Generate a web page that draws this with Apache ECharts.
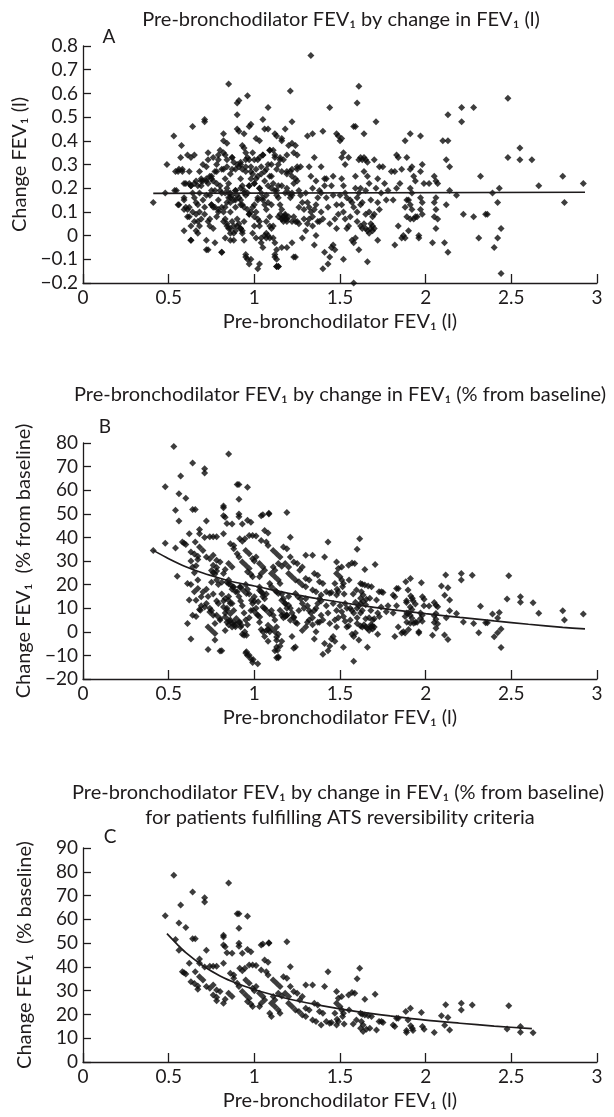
<!DOCTYPE html>
<html><head><meta charset="utf-8">
<script src="https://cdn.jsdelivr.net/npm/echarts@6/dist/echarts.min.js"></script>
<style>html,body{margin:0;padding:0;background:#fff}#c{width:614px;height:1117px}</style>
</head><body><div id="c"></div>
<script>
const xTicks = [0, 0.5, 1, 1.5, 2, 2.5, 3];
const yTicksA = [-0.2, -0.1, 0, 0.1, 0.2, 0.3, 0.4, 0.5, 0.6, 0.7, 0.8];
const yTicksB = [-20, -10, 0, 10, 20, 30, 40, 50, 60, 70, 80];
const yTicksC = [0, 10, 20, 30, 40, 50, 60, 70, 80, 90];

// Panel A: pre-bronchodilator FEV1 (l) vs change in FEV1 (l)
const panelA = [
[0.41,0.14],[0.48,0.18],[0.49,0.30],[0.53,0.42],[0.54,0.27],[0.545,0.19],[0.555,0.27],[0.56,0.13],[0.57,0.33],[0.575,0.38],[0.58,0.27],[0.59,0.22],[0.59,0.16],[0.60,0.22],[0.60,0.12],[0.59,0.02],[0.63,-0.02],[0.555,0.13],[0.61,0.08],[0.61,0.11],[0.59,0.15],
[0.61,0.34],[0.64,0.46],[0.63,0.33],[0.65,0.34],[0.62,0.22],[0.63,0.21],[0.64,0.18],[0.65,0.16],[0.66,0.14],[0.67,0.13],[0.65,0.22],[0.67,0.21],[0.68,0.27],[0.69,0.24],[0.67,0.06],[0.68,0.04],[0.66,0.09],[0.69,0.07],[0.70,0.30],[0.70,0.23],[0.69,0.21],[0.62,0.12],[0.64,0.10],[0.66,0.02],[0.68,0.18],[0.70,0.15],
[0.71,0.49],[0.71,0.48],[0.72,0.29],[0.73,0.35],[0.74,0.25],[0.72,0.23],[0.73,0.22],[0.75,0.24],[0.76,0.23],[0.74,0.17],[0.75,0.13],[0.76,0.12],[0.77,0.19],[0.78,0.22],[0.78,0.30],[0.79,0.32],[0.73,0.06],[0.72,-0.06],[0.76,0.03],[0.77,-0.03],[0.78,0.08],[0.79,0.10],[0.71,0.12],[0.74,0.04],[0.75,0.19],[0.80,0.36],[0.77,0.27],[0.79,0.15],[0.72,0.17],
[0.82,0.43],[0.82,0.40],[0.84,0.39],[0.85,0.64],[0.81,-0.07],[0.82,0.28],[0.83,0.24],[0.84,0.20],[0.85,0.18],[0.86,0.16],[0.87,0.17],[0.88,0.15],[0.81,0.12],[0.82,0.10],[0.83,0.07],[0.84,0.05],[0.85,0.03],[0.86,0.01],[0.87,0.06],[0.88,0.04],[0.89,0.02],[0.80,0.21],[0.86,0.26],[0.88,0.31],[0.89,0.28],[0.84,0.14],[0.86,0.10],[0.89,0.12],[0.83,0.34],[0.87,0.33],[0.88,-0.02],[0.85,0.22],[0.89,0.19],[0.81,0.18],
[0.90,0.56],[0.91,0.57],[0.90,0.51],[0.90,0.45],[0.91,0.44],[0.96,0.59],[0.92,0.30],[0.93,0.38],[0.94,0.37],[0.94,0.43],[0.90,0.17],[0.91,0.16],[0.92,0.15],[0.93,0.13],[0.94,0.18],[0.95,0.17],[0.96,0.18],[0.97,0.21],[0.98,0.24],[0.99,0.26],[0.90,0.07],[0.91,0.05],[0.92,0.03],[0.93,0.02],[0.94,0.06],[0.95,-0.09],[0.96,-0.10],[0.97,-0.12],[0.98,0.10],[0.99,0.12],[0.95,0.35],[0.96,0.33],[0.97,0.32],[0.98,0.47],[0.97,0.46],[0.92,0.24],[0.95,0.27],[0.97,0.09],[0.99,0.01],[0.93,0.21],[0.96,0.11],[0.91,0.29],[0.98,0.29],[0.94,-0.02],
[1.02,-0.14],[1.01,0.41],[1.03,0.40],[1.05,0.49],[1.06,0.45],[1.08,0.45],[1.08,0.54],[1.00,0.22],[1.01,0.24],[1.02,0.25],[1.03,0.20],[1.04,0.18],[1.05,0.15],[1.06,0.13],[1.07,0.17],[1.08,0.21],[1.09,0.25],[1.00,0.13],[1.01,0.10],[1.02,0.07],[1.03,0.04],[1.04,-0.03],[1.05,-0.05],[1.06,0.00],[1.07,0.01],[1.08,0.00],[1.09,-0.01],[1.00,0.32],[1.03,0.33],[1.05,0.34],[1.08,0.30],[1.09,0.36],[1.02,0.16],[1.06,0.27],[1.04,0.29],[1.07,0.11],[1.09,0.08],[1.00,0.04],
[1.11,0.36],[1.12,0.43],[1.13,0.42],[1.16,0.41],[1.16,0.40],[1.18,0.45],[1.10,0.25],[1.11,0.22],[1.12,0.19],[1.13,0.17],[1.14,0.16],[1.15,0.13],[1.16,0.11],[1.17,0.08],[1.18,0.07],[1.19,0.06],[1.10,0.03],[1.11,-0.01],[1.12,-0.03],[1.13,-0.06],[1.13,-0.13],[1.14,-0.13],[1.12,-0.09],[1.15,0.09],[1.16,0.07],[1.17,0.06],[1.18,0.09],[1.19,0.07],[1.14,0.30],[1.15,0.33],[1.17,0.32],[1.19,0.27],[1.12,0.34],[1.16,-0.05],[1.18,0.18],[1.14,0.21],[1.10,0.13],
[1.21,0.61],[1.22,0.48],[1.20,0.38],[1.22,0.39],[1.24,0.38],[1.25,0.34],[1.21,0.27],[1.22,0.25],[1.23,0.22],[1.24,0.24],[1.25,0.23],[1.26,0.19],[1.27,0.17],[1.20,0.18],[1.21,0.16],[1.22,0.17],[1.23,0.08],[1.24,0.06],[1.22,-0.03],[1.23,-0.09],[1.26,0.12],[1.28,0.14],[1.29,0.11],[1.25,0.28],[1.27,0.29],[1.29,0.07],[1.28,-0.01],[1.30,0.02],[1.26,0.05],
[1.33,0.76],[1.31,0.42],[1.34,0.43],[1.32,0.29],[1.33,0.25],[1.34,0.20],[1.35,0.33],[1.30,0.18],[1.31,0.14],[1.32,0.12],[1.33,0.10],[1.34,0.08],[1.35,0.11],[1.36,0.13],[1.37,0.16],[1.38,0.19],[1.39,0.18],[1.32,0.07],[1.35,-0.04],[1.36,0.00],[1.37,0.06],[1.38,0.06],[1.39,0.29],[1.36,0.23],[1.34,0.04],[1.31,0.05],[1.39,0.10],
[1.40,0.44],[1.44,0.54],[1.41,0.24],[1.42,0.24],[1.41,0.21],[1.40,-0.14],[1.41,-0.07],[1.43,-0.12],[1.44,-0.09],[1.45,-0.05],[1.46,-0.04],[1.47,-0.06],[1.44,0.05],[1.45,0.21],[1.46,0.25],[1.48,0.43],[1.49,0.42],[1.48,0.13],[1.49,0.09],[1.47,0.07],[1.42,0.16],[1.43,0.12],[1.46,0.17],[1.40,0.07],[1.48,0.03],
[1.50,0.40],[1.51,0.41],[1.52,0.35],[1.51,0.33],[1.53,0.30],[1.55,0.33],[1.51,0.24],[1.52,0.21],[1.50,0.17],[1.51,0.13],[1.52,0.10],[1.53,0.07],[1.54,0.03],[1.55,0.04],[1.56,0.15],[1.57,0.14],[1.58,0.12],[1.59,0.20],[1.52,-0.10],[1.58,-0.20],[1.57,-0.02],[1.58,-0.03],[1.59,-0.01],[1.56,0.08],[1.54,0.16],[1.59,0.25],[1.53,0.18],[1.58,0.46],[1.59,0.46],
[1.61,0.63],[1.60,0.56],[1.64,0.43],[1.61,0.32],[1.62,0.33],[1.63,0.32],[1.64,0.33],[1.65,0.32],[1.66,0.31],[1.62,0.20],[1.61,0.18],[1.60,0.16],[1.63,0.14],[1.62,0.13],[1.64,0.27],[1.66,0.25],[1.67,0.22],[1.60,0.06],[1.62,0.04],[1.63,0.03],[1.64,0.05],[1.65,0.03],[1.66,0.02],[1.67,0.01],[1.68,0.03],[1.68,0.05],[1.69,0.02],[1.69,0.04],[1.70,0.03],[1.66,-0.11],[1.61,-0.06],[1.65,0.09],[1.67,0.10],[1.69,0.08],[1.68,0.15],[1.65,0.19],[1.60,0.10],
[1.71,0.48],[1.70,0.32],[1.73,0.29],[1.75,0.29],[1.72,0.24],[1.71,0.20],[1.74,0.18],[1.78,0.19],[1.76,0.22],[1.72,0.14],[1.70,0.09],[1.72,-0.02],[1.73,0.11],[1.77,0.15],
[1.82,0.27],[1.83,0.34],[1.84,0.33],[1.86,0.28],[1.88,0.40],[1.89,0.33],[1.81,0.15],[1.83,0.20],[1.84,0.04],[1.86,-0.01],[1.87,0.00],[1.82,-0.04],[1.88,-0.01],[1.89,0.15],[1.88,0.12],[1.89,0.08],[1.80,0.27],[1.85,0.22],
[1.91,0.43],[1.92,0.29],[1.93,0.25],[1.91,0.28],[1.90,0.15],[1.91,0.13],[1.92,0.11],[1.91,0.07],[1.93,0.07],[1.94,0.08],[1.91,0.20],[1.92,0.18],[1.90,0.02],[1.97,0.42],[1.98,0.30],[1.97,0.27],[1.97,0.16],[1.98,0.14],[1.97,0.11],[1.98,0.09],[1.96,0.00],[1.96,-0.01],[1.95,0.08],[1.99,0.22],[1.94,0.23],
[2.04,-0.03],[2.05,0.25],[2.06,0.23],[2.06,0.16],[2.05,0.14],[2.06,0.11],[2.05,0.08],[2.07,0.07],[2.06,0.03],[2.02,0.22],[2.07,0.22],[2.10,0.40],[2.13,0.40],[2.12,0.32],[2.14,0.29],[2.13,0.51],[2.14,0.19],[2.12,0.13],[2.11,-0.03],[2.13,-0.07],[2.18,0.17],
[2.21,0.54],[2.21,0.48],[2.28,0.54],[2.22,0.09],[2.28,0.08],[2.31,-0.01],[2.32,0.25],[2.35,0.09],[2.36,0.09],[2.39,0.18],[2.40,-0.05],[2.42,-0.01],[2.42,0.14],[2.43,0.20],[2.44,0.03],[2.44,-0.16],[2.48,0.58],[2.48,0.33],[2.55,0.37],[2.55,0.32],[2.62,0.32],[2.66,0.21],[2.80,0.25],[2.81,0.14],[2.92,0.22],
[0.535,0.19],[0.59,0.11],[0.62,0.08],[0.65,0.06],[0.63,0.04],[0.67,0.01],[0.63,-0.02],[0.72,-0.02],[0.73,-0.06],[0.81,-0.07],[0.68,0.10],[0.71,0.09],[0.74,0.07],[0.75,0.13],[0.77,0.12],[0.79,0.11],[0.82,0.06],[0.84,0.04],[0.86,0.03],[0.88,0.01],[0.90,0.04],[0.92,0.03],[0.93,0.01],[0.83,-0.01],[0.86,-0.02],[0.95,-0.08],[0.98,-0.10],[1.03,-0.12],[1.12,-0.08],[1.13,-0.10],[1.13,-0.13],[1.14,-0.13],[1.19,-0.05],[1.24,-0.09],[0.97,0.09],[1.00,0.08],[1.03,0.06],[1.07,0.06],[1.09,0.04],[1.11,0.04],[1.14,0.08],[1.16,0.07],[1.18,0.085],[1.20,0.08],[1.22,0.06],[1.25,0.06],[1.01,-0.01],[1.04,-0.01],[1.07,-0.01],[1.02,0.15],[1.05,0.16],[1.08,0.14],[0.92,0.13],[0.94,0.12],[0.89,0.15],[0.83,0.12],[0.85,0.16],[0.86,0.14],[0.80,0.19],[0.83,0.18],[0.86,0.18],[0.89,0.19],[0.92,0.20],[0.94,0.19],[0.97,0.21],[1.00,0.22],[1.03,0.20],[1.06,0.23],[1.10,0.20],[1.13,0.19],[1.16,0.21],[1.19,0.20],[1.22,0.18],[0.63,0.21],[0.66,0.23],[0.69,0.23],[0.72,0.24],[0.75,0.25],[0.78,0.27],[0.81,0.28],[0.84,0.29],[0.87,0.28],[0.90,0.30],[0.93,0.28],[0.95,0.29],[0.98,0.27],[1.01,0.28],[1.04,0.26],[1.07,0.28],[1.10,0.30],[1.13,0.28],[1.16,0.27],[1.19,0.26],[1.22,0.28],[1.25,0.29],[0.56,0.28],[0.58,0.28],[0.62,0.27],[0.73,0.32],[0.76,0.33],[0.79,0.34],[0.82,0.35],[0.84,0.32],[0.87,0.33],[0.92,0.31],[0.95,0.32],[0.99,0.35],[1.02,0.32],[1.05,0.34],[1.09,0.36],[1.12,0.33],[1.15,0.32],[1.19,0.34],[1.23,0.35]
];

// Panel B: points seen only in B (not meeting ATS criteria)
const panelBOnly = [
[0.41,34.5],[0.48,37.5],[0.54,35.5],[0.55,23.5],[0.61,20.5],[0.61,3.5],
[0.63,-3],[0.63,30],[0.64,27.5],[0.65,25],[0.66,28],[0.62,13.5],[0.63,20],[0.65,17],[0.66,6.5],[0.68,9.5],[0.69,11],[0.67,22],[0.64,7],
[0.75,26],[0.76,25],[0.77,24.5],[0.78,22],[0.79,20],[0.72,18],[0.73,15],[0.74,10],[0.75,9],[0.76,7],[0.77,3.5],[0.73,2],[0.73,-7.5],[0.77,-3.5],[0.78,13],[0.79,12],[0.76,16],[0.75,21],
[0.81,-8],[0.84,21],[0.85,22],[0.86,20],[0.87,18],[0.88,19],[0.89,17],[0.81,16],[0.82,13],[0.83,8],[0.84,4],[0.85,3],[0.86,5],[0.87,2],[0.88,4],[0.89,3],[0.84,10],[0.86,12],[0.88,9],[0.80,5],[0.83,0.5],[0.85,15],[0.81,21],
[0.95,20],[0.96,18],[0.90,17],[0.91,15],[0.92,13],[0.93,11],[0.94,8],[0.95,5],[0.96,3],[0.97,6],[0.98,9],[0.99,12],[0.91,4],[0.92,2],[0.93,-1],[0.94,-1.5],[0.95,-9],[0.96,-10],[0.98,-11.5],[0.99,-13],[0.97,16],[0.92,19],
[1.02,-13.5],[1.03,19],[1.04,17],[1.05,15],[1.06,14],[1.07,16],[1.00,13],[1.01,10],[1.02,7],[1.03,4],[1.04,1],[1.05,0],[1.06,-2],[1.07,0.5],[1.08,1],[1.09,0],[1.06,10],[1.08,-4],
[1.13,17],[1.16,16],[1.17,14],[1.18,12],[1.19,10],[1.10,9],[1.11,7],[1.12,5],[1.13,2],[1.14,-1],[1.15,-6],[1.13,-11],[1.14,-11],[1.12,-8],[1.16,7],[1.17,6],[1.18,6.5],[1.19,7],[1.16,-4],
[1.27,14],[1.28,12],[1.20,15],[1.21,10],[1.22,8],[1.23,6],[1.24,4],[1.22,-2],[1.23,-7],[1.29,10],[1.28,0.5],[1.30,2],[1.26,9],
[1.30,14],[1.31,11],[1.32,9],[1.33,8],[1.34,6],[1.35,9],[1.36,10],[1.37,12],[1.38,14],[1.39,13],[1.32,5],[1.35,-3],[1.36,0],[1.37,4],[1.38,4],[1.34,3],[1.31,4],[1.39,7],
[1.40,-9.5],[1.41,-5],[1.43,-8],[1.44,-6],[1.45,-3],[1.46,-2],[1.47,-4],[1.44,3.5],[1.48,9],[1.49,6],[1.47,5],[1.42,11],[1.43,8],[1.46,12],[1.40,5],[1.48,2],
[1.50,11],[1.51,8.5],[1.52,6.5],[1.53,4.5],[1.54,2],[1.55,2.5],[1.56,10],[1.57,9],[1.58,8],[1.59,12.5],[1.52,-6.5],[1.58,-12.5],[1.57,-1],[1.58,-2],[1.59,-0.5],[1.56,5],[1.54,10],[1.53,12],
[1.62,12],[1.61,11],[1.60,10],[1.63,9],[1.62,8],[1.60,3.5],[1.62,2.5],[1.63,2],[1.64,3],[1.65,2],[1.66,1.5],[1.67,0.5],[1.68,2],[1.68,3],[1.69,1.2],[1.69,2.5],[1.70,2],[1.66,-6.5],[1.61,-3.5],[1.65,5.5],[1.67,6],[1.69,5],[1.68,9],[1.65,11.5],[1.60,6],
[1.74,10.5],[1.78,11],[1.72,8],[1.70,5.5],[1.72,-1],[1.73,6.5],[1.77,8.5],
[1.81,8],[1.83,11],[1.84,2],[1.86,-0.5],[1.87,0],[1.82,-2],[1.88,-0.5],[1.89,8],[1.88,6.5],[1.89,4],
[1.90,8],[1.91,7],[1.92,5.7],[1.91,3.6],[1.93,3.6],[1.94,4],[1.91,10.5],[1.92,9.4],[1.90,1],[1.97,8],[1.98,7],[1.97,5.6],[1.98,4.5],[1.96,0],[1.96,-0.5],[1.95,4],[1.99,11],[1.94,11.8],
[2.04,-1.5],[2.06,7.8],[2.05,6.8],[2.06,5.3],[2.05,3.9],[2.07,3.4],[2.06,1.5],[2.02,10.9],[2.07,10.6],[2.06,11.2],
[2.14,8.9],[2.12,6],[2.11,-1.4],[2.13,-3.3],[2.18,7.8],
[2.22,4.1],[2.28,3.5],[2.31,-0.4],[2.32,10.8],[2.35,3.8],[2.36,3.8],[2.39,7.5],[2.40,-2.1],[2.42,-0.4],[2.42,5.8],[2.43,8.2],[2.44,1.2],[2.44,-6.6],
[2.66,7.9],[2.80,8.9],[2.81,5],[2.92,7.5],
[0.80,-8.1],[0.75,0.7],[0.77,-0.7],[0.78,7],[0.80,5.6],[0.685,9.1],[0.71,10.5],[0.74,8.4],[0.66,13.4],[0.69,14.8],[0.72,12],[0.67,18.3],[0.70,16.9],[0.83,14.1],[0.85,13.4],[0.87,12],[0.82,10.5],[0.84,9.1],[0.86,7.7],[0.83,6.3],[0.85,4.9],[0.87,3.5],[0.89,2.1],[0.895,5.6],[0.915,4.2],[0.925,2.8],[0.944,0],[0.954,-1.5],[0.954,-8.5],[0.97,-9.9],[0.993,-11.7],[0.993,9.1],[1.012,7.7],[1.032,6.3],[0.983,13.4],[1.0,14.8],[1.022,12.7],[1.05,10.5],[1.07,9.1],[1.09,7.7],[1.08,2.8],[1.10,1.4],[1.12,0],[1.13,-2.2],[1.13,-3.6],[1.13,-6.4],[1.135,-7.8],[1.14,-10.6],[1.15,9.1],[1.17,7.7],[1.19,7],[1.16,13.4],[1.18,12],[1.20,11.3],[1.21,4.9],[1.23,6.3],[1.25,3.5],[1.24,-6.4],[1.12,17.6],[1.14,16.2],[0.915,19],[0.935,17.6],[0.954,16.2],[0.85,20.4],[0.875,19],[1.03,17.6],[1.05,16.2],[1.24,16.2],[1.255,14.8]
];

// Panel C: patients fulfilling ATS reversibility criteria (also drawn in B)
const panelC = [
[0.53,78.5],[0.48,61.5],[0.54,51.5],[0.56,58.5],[0.57,66],[0.60,56.6],[0.56,47],[0.64,71.5],[0.64,51.8],[0.655,51.8],[0.71,69.1],[0.71,67.3],[0.58,38],[0.59,37.5],[0.60,37],[0.62,41.5],[0.63,33.8],[0.65,33],[0.67,32],[0.68,43.3],[0.68,41.5],[0.72,47],[0.71,40],[0.74,40.3],[0.76,40.3],[0.78,40.3],[0.655,38],[0.68,35.9],[0.70,34.5],[0.72,31.7],[0.74,31],[0.76,32.4],[0.67,30.6],[0.78,30.3],[0.80,29.6],[0.76,28.2],[0.78,27.2],[0.82,52.6],[0.82,53.3],[0.82,49.2],[0.83,48.5],[0.84,45.9],[0.82,41.5],[0.78,25.8],[0.82,24.7],[0.83,26.4],[0.85,75.3],[0.87,45.7],[0.86,37.3],[0.88,36.6],[0.85,28.9],[0.87,27.5],[0.90,62.4],[0.91,62.4],[0.91,56.2],[0.91,49.9],[0.91,48.7],[0.93,45.7],[0.88,35.2],[0.90,33.1],[0.91,31.7],[0.93,29.6],[0.915,39.4],[0.96,61.3],[0.93,38.4],[0.945,39.4],[0.96,47.3],[0.98,46.4],[0.97,40.8],[0.99,40.8],[1.01,40.6],[0.95,34.5],[0.97,33.1],[0.99,31],[1.00,30],[0.95,28.2],[0.97,26.8],[1.01,31.7],[0.96,25.4],[0.98,24.4],[0.99,23.3],[1.04,49.2],[1.05,49.6],[1.085,49.9],[1.085,50.2],[1.06,42.9],[1.08,41.9],[1.04,38.7],[1.07,38],[1.08,36.6],[1.03,28.9],[1.05,27.5],[1.06,26.1],[1.04,24.7],[1.03,23.3],[1.11,34.5],[1.13,33.1],[1.15,31.7],[1.14,28.9],[1.16,27.8],[1.11,27.5],[1.12,26.1],[1.10,24.7],[1.12,23.3],[1.14,21.9],[1.15,20.5],[1.09,20.5],[1.10,19.1],[1.19,50.6],[1.21,40.1],[1.17,35.9],[1.19,35.2],[1.21,31.7],[1.23,29.6],[1.25,28.9],[1.18,28.9],[1.20,27.5],[1.20,24.7],[1.22,23.3],[1.24,21.9],[1.26,21.2],[1.265,26.1],[1.28,27.5],[1.30,32.4],[1.34,32.4],[1.35,24.7],[1.37,24],[1.30,22.6],[1.32,21.9],[1.28,19.8],[1.30,19.1],[1.38,21.2],[1.40,20.5],[1.41,31.7],[1.34,17.7],[1.36,17],[1.42,17],[1.44,16.3],[1.39,15.6],[1.43,38],[1.48,29.6],[1.49,26.8],[1.48,24.7],[1.47,20.5],[1.49,17],[1.48,15.6],
[1.615,39.4],[1.60,35],[1.51,27.5],[1.55,28.2],[1.57,29.2],[1.586,28.9],[1.645,26.4],[1.705,28.5],[1.50,23.3],[1.51,21.9],[1.52,20.5],[1.515,19.1],[1.553,21.9],[1.45,16.6],[1.483,18],[1.524,16],[1.577,16],[1.596,17.7],[1.62,20.5],[1.63,20.1],[1.645,19.8],[1.664,19.4],[1.684,19.1],[1.625,17],[1.635,15.6],[1.62,14.2],[1.635,12.8],[1.654,13.8],[1.674,14.2],[1.713,13.5],[1.728,17],[1.742,17],[1.751,16.6],[1.81,15.6],[1.82,14.9],[1.83,18.4],[1.84,18.4],[1.884,21.2],[1.897,17.7],[1.888,12.4],[1.888,13.2],[1.911,22.6],[1.913,15.2],[1.922,14.2],[1.926,13.2],[1.975,20.8],[1.981,14.9],[1.991,13.8],[2.05,12.4],[2.092,19.4],[2.111,15.5],[2.13,18.7],[2.14,13.5],[2.117,24.1],[2.208,24.7],[2.208,21.9],[2.272,24],[2.485,23.7],[2.475,13.9],[2.553,14.9],[2.553,12.5],[2.627,12.3]
];

// Fitted lines
const fitA = [[0.41,0.178],[2.93,0.183]];
const fitB = [[0.41,34.5],[0.5,31],[0.6,27.6],[0.7,24.9],[0.8,22.7],[0.9,20.8],[1.0,19.4],[1.2,16.3],[1.4,13.7],[1.6,11.4],[1.8,9.4],[2.0,7.7],[2.2,6.1],[2.4,4.6],[2.6,3.2],[2.8,1.9],[2.93,1.2]];
const fitC = [[0.49,54],[0.55,49.5],[0.6,46],[0.7,40.5],[0.8,36.2],[0.9,33],[1.0,30.5],[1.1,28.4],[1.2,26.5],[1.4,23.6],[1.6,21.2],[1.8,19.3],[2.0,17.6],[2.2,16.3],[2.4,15.1],[2.62,14]];

const ink = '#1e1b1c';
const FONT = 'Lato';
const chart = echarts.init(document.getElementById('c'));

function fmt(v){ return String(+(+v).toFixed(2)).replace('-', '\u2212'); }
function xAx(i){
  return { type:'value', gridIndex:i, min:xTicks[0], max:xTicks[xTicks.length-1], interval:xTicks[1]-xTicks[0],
    name:'Pre-bronchodilator FEV\u2081 (l)', nameLocation:'middle', nameGap:29,
    nameTextStyle:{fontSize:20, color:ink, fontFamily:FONT},
    axisLine:{show:true, onZero:false, lineStyle:{color:ink, width:1.3}},
    axisTick:{show:true, inside:true, length:9, lineStyle:{color:ink, width:1.3}},
    axisLabel:{fontSize:19, color:ink, fontFamily:FONT, margin:5, formatter:fmt},
    splitLine:{show:false} };
}
function yAx(i, ticks, name){
  return { type:'value', gridIndex:i, min:ticks[0], max:ticks[ticks.length-1], interval:ticks[1]-ticks[0],
    name:name, nameLocation:'middle', nameGap:48,
    nameTextStyle:{fontSize:20, color:ink, fontFamily:FONT},
    axisLine:{show:true, onZero:false, lineStyle:{color:ink, width:1.3}},
    axisTick:{show:true, inside:true, length:8, lineStyle:{color:ink, width:1.3}},
    axisLabel:{fontSize:19, color:ink, fontFamily:FONT, margin:5, formatter:fmt},
    splitLine:{show:false} };
}
function txt(t, x, y, size){
  return { type:'text', x:x, y:y, silent:true,
    style:{ text:t, fill:ink, font: size + 'px ' + FONT, textAlign:'center', textVerticalAlign:'middle', verticalAlign:'middle' } };
}
const dot = { symbol:'diamond', symbolSize:7, itemStyle:{color:'#0d0d0d'}, silent:true };
const fitLine = { symbol:'none', showSymbol:false, lineStyle:{color:ink, width:1.7}, silent:true, z:5 };

chart.setOption({
  animation:false,
  backgroundColor:'#fff',
  grid:[
    {left:83, top:46, width:514, height:237},
    {left:83, top:443, width:514, height:236},
    {left:83, top:848, width:514, height:214}
  ],
  xAxis:[xAx(0), xAx(1), xAx(2)],
  yAxis:[
    yAx(0, yTicksA, 'Change FEV\u2081 (l)'),
    yAx(1, yTicksB, 'Change FEV\u2081  (% from baseline)'),
    yAx(2, yTicksC, 'Change FEV\u2081  (% baseline)')
  ],
  graphic:[
    txt('Pre-bronchodilator FEV\u2081 by change in FEV\u2081 (l)', 341, 20, 20),
    txt('Pre-bronchodilator FEV\u2081 by change in FEV\u2081 (% from baseline)', 340, 395, 20),
    txt('Pre-bronchodilator FEV\u2081 by change in FEV\u2081 (% from baseline)', 338, 793, 20),
    txt('for patients fulfilling ATS reversibility criteria', 340, 818, 20),
    txt('A', 109, 37, 19),
    txt('B', 105, 427, 19),
    txt('C', 110, 837, 19)
  ],
  series:[
    Object.assign({type:'scatter', xAxisIndex:0, yAxisIndex:0, data:panelA}, dot),
    Object.assign({type:'line', xAxisIndex:0, yAxisIndex:0, data:fitA}, fitLine),
    Object.assign({type:'scatter', xAxisIndex:1, yAxisIndex:1, data:panelBOnly.concat(panelC)}, dot),
    Object.assign({type:'line', xAxisIndex:1, yAxisIndex:1, data:fitB, smooth:0.3}, fitLine),
    Object.assign({type:'scatter', xAxisIndex:2, yAxisIndex:2, data:panelC}, dot),
    Object.assign({type:'line', xAxisIndex:2, yAxisIndex:2, data:fitC, smooth:0.3}, fitLine)
  ]
});
</script>
</body></html>
